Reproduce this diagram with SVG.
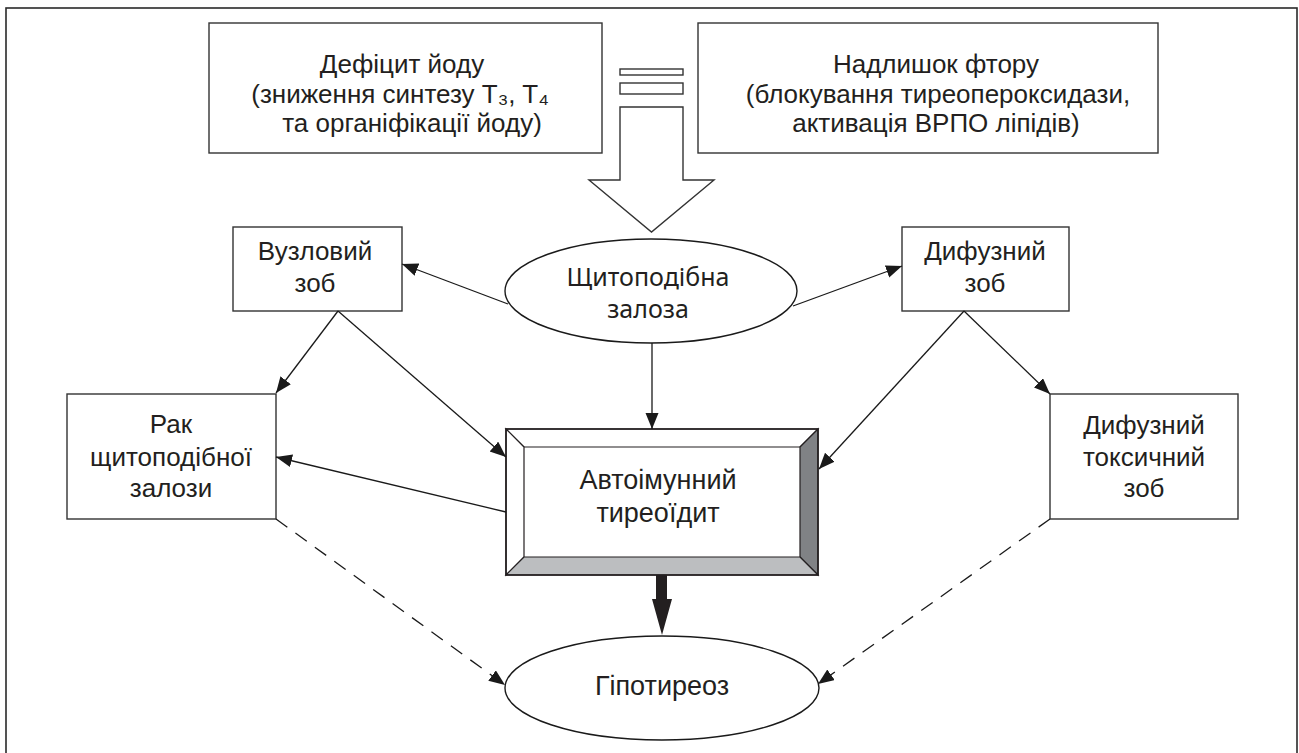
<svg xmlns="http://www.w3.org/2000/svg" width="1299" height="753" viewBox="0 0 1299 753">
<style>
  .box { fill: #ffffff; stroke: #333333; stroke-width: 1.4; }
  .ell { fill: #ffffff; stroke: #1a1a1a; stroke-width: 1.4; }
  .t { font-family: "Liberation Sans", "DejaVu Sans", Arial, sans-serif; font-size: 26px; fill: #231f20; text-anchor: middle; }
  .big { font-size: 27px; }
  .tc { font-family: "Noto Sans", "Open Sans", sans-serif; font-size: 25px; fill: #231f20; text-anchor: middle; }
  .con { fill: none; stroke: #1a1a1a; stroke-width: 1.3; }
  .dash { stroke-dasharray: 14 10; }
</style>
<defs>
  <marker id="ah" markerUnits="userSpaceOnUse" markerWidth="16" markerHeight="14" refX="16" refY="6.5" orient="auto">
    <path d="M0,0 L16,6.5 L0,13 z" fill="#1a1a1a"/>
  </marker>
</defs>

<rect id="frame" x="6" y="8" width="1291" height="760" fill="none" stroke="#2a2a2a" stroke-width="1.6"/>

<g id="node-deficit">
  <rect class="box" x="209" y="23" width="393" height="130"/>
  <text class="t" x="402" y="73">Дефіцит йоду</text>
  <text class="t" x="400" y="103">(зниження синтезу T₃, T₄</text>
  <text class="t" x="412" y="132">та органіфікації йоду)</text>
</g>

<g id="node-fluor">
  <rect class="box" x="698" y="23" width="460" height="130"/>
  <text class="t" x="936" y="73">Надлишок фтору</text>
  <text class="t" x="938" y="103">(блокування тиреопероксидази,</text>
  <text class="t" x="936" y="132">активація ВРПО ліпідів)</text>
</g>

<g id="node-equals">
  <rect class="box" x="620" y="69" width="63" height="6"/>
  <rect class="box" x="620" y="83" width="63" height="11"/>
</g>

<g id="node-bigarrow">
  <polygon points="620,107 683,107 683,180 714,180 651.5,232 589,180 620,180" fill="#ffffff" stroke="#333333" stroke-width="1.4"/>
</g>

<g id="node-thyroid">
  <ellipse class="ell" cx="651" cy="291" rx="146" ry="52"/>
  <text class="tc" x="648" y="286">Щитоподібна</text>
  <text class="tc" x="648" y="318">залоза</text>
</g>

<g id="node-nodular">
  <rect class="box" x="233" y="227" width="169" height="84"/>
  <text class="t" x="315" y="260">Вузловий</text>
  <text class="t" x="315" y="292">зоб</text>
</g>

<g id="node-diffuse">
  <rect class="box" x="902" y="227" width="167" height="84"/>
  <text class="t" x="985" y="260">Дифузний</text>
  <text class="t" x="985" y="292">зоб</text>
</g>

<g id="node-cancer">
  <rect class="box" x="67" y="394" width="209" height="125"/>
  <text class="t" x="171" y="433">Рак</text>
  <text class="t" x="171" y="466">щитоподібної</text>
  <text class="t" x="171" y="497">залози</text>
</g>

<g id="node-toxic">
  <rect class="box" x="1050" y="394" width="188" height="125"/>
  <text class="t" x="1144" y="434">Дифузний</text>
  <text class="t" x="1144" y="466">токсичний</text>
  <text class="t" x="1144" y="497">зоб</text>
</g>

<g id="node-autoimmune">
  <rect x="506" y="429" width="312" height="146" fill="#ffffff"/>
  <polygon points="506,429 818,429 800,447 524,447" fill="#ffffff" stroke="#231f20" stroke-width="1.2"/>
  <polygon points="506,429 524,447 524,557 506,575" fill="#ffffff" stroke="#231f20" stroke-width="1.2"/>
  <polygon points="818,429 818,575 800,557 800,447" fill="#808285" stroke="#231f20" stroke-width="1.2"/>
  <polygon points="506,575 524,557 800,557 818,575" fill="#bcbec0" stroke="#231f20" stroke-width="1.2"/>
  <rect x="506" y="429" width="312" height="146" fill="none" stroke="#231f20" stroke-width="1.6"/>
  <text class="t big" x="658" y="489">Автоімунний</text>
  <text class="t big" x="658" y="522">тиреоїдит</text>
</g>

<g id="node-hypothyroid">
  <ellipse class="ell" cx="662" cy="688" rx="157" ry="52"/>
  <text class="t big" x="662" y="695">Гіпотиреоз</text>
</g>

<g id="connectors">
  <line class="con" x1="508" y1="304" x2="402" y2="264" marker-end="url(#ah)"/>
  <line class="con" x1="793" y1="306" x2="902" y2="266" marker-end="url(#ah)"/>
  <line class="con" x1="652" y1="343" x2="652" y2="429" marker-end="url(#ah)"/>
  <line class="con" x1="338" y1="311" x2="276" y2="393" marker-end="url(#ah)"/>
  <line class="con" x1="338" y1="311" x2="506" y2="457" marker-end="url(#ah)"/>
  <line class="con" x1="506" y1="512" x2="276" y2="457" marker-end="url(#ah)"/>
  <line class="con" x1="964" y1="311" x2="819" y2="469" marker-end="url(#ah)"/>
  <line class="con" x1="964" y1="311" x2="1050" y2="394" marker-end="url(#ah)"/>
  <line class="con dash" x1="276" y1="519" x2="505" y2="685" marker-end="url(#ah)"/>
  <line class="con dash" x1="1050" y1="519" x2="818" y2="684" marker-end="url(#ah)"/>
  <polygon points="656,575 667,575 667,599 672,599 662,635 652,599 656,599" fill="#231f20"/>
</g>
</svg>
